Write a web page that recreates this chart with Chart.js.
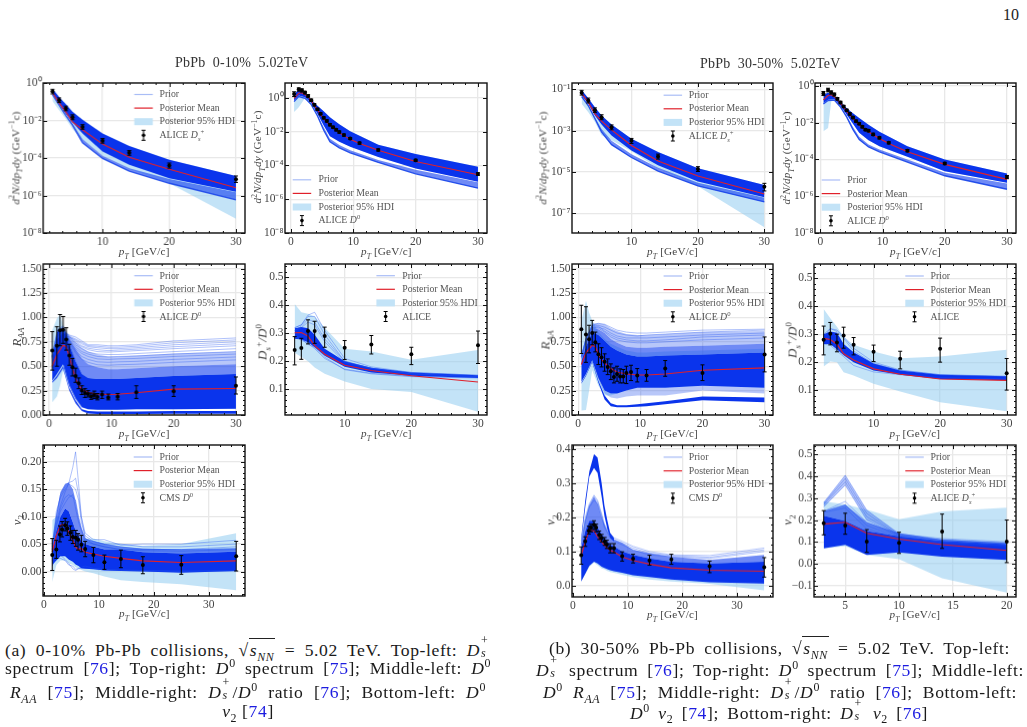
<!DOCTYPE html>
<html>
<head>
<meta charset="utf-8">
<title>Heavy flavour observables in PbPb collisions</title>
<script src="https://cdn.jsdelivr.net/npm/chart.js@4/dist/chart.umd.min.js"></script>
<style>
    html, body { margin: 0; padding: 0; background: #fff; overflow: hidden; }
    body { width: 1027px; height: 727px; position: relative; font-family: "Liberation Serif", serif; color: #222; }
    canvas { position: absolute; }
    .txt { position: absolute; white-space: nowrap; line-height: 1; }
    .title { font-size: 14px; color: #333; letter-spacing: .2px; }
    .axis { font-size: 11.2px; color: #444; transform: translate(-50%, -50%); letter-spacing: .15px; }
    .axis.rot { transform: translate(-50%, -50%) rotate(-90deg); }
    .big { font-size: 13px; }
    .leg { font-size: 9.8px; color: #555; transform: translateY(-50%); }
    .cap { position: absolute; font-size: 17.6px; line-height: 20px; height: 20px; color: #1a1a1a; text-align: justify; text-align-last: justify; white-space: nowrap; letter-spacing: .6px; }
    .cap.mid { text-align: center; text-align-last: center; }
    .cap b { font-weight: normal; color: #1c1ce0; }
    sub, sup { font-size: .68em; line-height: 0; }
    .st { display: inline-block; position: relative; width: .62em; height: 1em; }
    .st i, .st span { position: absolute; left: 1px; font-size: .68em; line-height: 1; }
    .st span { top: -.25em; } .st i { top: .85em; }
    .rt { border-top: 1px solid #222; padding: 1px 1px 0 1px; line-height: 1; }
</style>
</head>
<body>
<script>
// pT nodes shared by several panels
const dsPt = [2.5, 3.5, 4.5, 5.5, 7, 10, 14, 20, 30];
const d0Pt = [0.5, 1.25, 1.75, 2.25, 2.75, 3.25, 3.75, 4.25, 4.75, 5.25, 5.75, 6.25, 6.75, 7.25, 7.75, 8.5, 9.5, 11, 14, 20, 30];
const d0Grid = [0.5, 1.25, 2.25, 3.25, 4.25, 5.25, 6.25, 7.75, 9.5, 14, 20, 30];
const raaGrid = [0.5, 1.25, 2.25, 3.25, 4.25, 5.25, 6.25, 7.75, 9.5, 11, 14, 20, 30];
const raaHdiX = [0.5, 1.25, 1.75, 2.25, 3.25, 4.25, 5.25, 6.25, 7.75, 9.5, 11, 14, 20, 30];
const raaMeanX = [0.5, 1.25, 2.25, 2.75, 3.25, 3.75, 4.25, 4.75, 5.25, 6.25, 7.75, 9.5, 11, 14, 20, 30];
const v2Pt = [1.5, 2.25, 2.9, 3.3, 3.85, 4.25, 4.8, 5.25, 5.8, 6.2, 6.8, 7.5, 9, 11, 14, 18, 25, 35];
const v2Grid = [1.5, 2.25, 3, 3.85, 4.5, 5.25, 5.75, 6.3, 6.8, 7.5, 9, 11, 14, 18, 25, 35];
const dsV2Pt = [3, 5, 7, 10, 14, 20];

// Ds spectrum, 0-10%
const cenDsY = [.35, .12, .044, .015, 4.5e-3, 8.3e-4, 1.9e-4, 4e-5, 7.4e-6];
const cenDsLo = [.26, .09, .033, .011, 3.4e-3, 6.2e-4, 1.4e-4, 2.9e-5, 5e-6];
const cenDsHi = [.46, .16, .058, .02, 6e-3, 1.1e-3, 2.5e-4, 5.4e-5, 1.1e-5];
const cenDsMean = [.3, .087, .029, 8.5e-3, 3.2e-3, 5.5e-4, 1.1e-4, 2.5e-5, 2.6e-6];
const cenDsCoreHi = [.5, .18, .074, .029, .011, 2e-3, 4.4e-4, 8e-5, 1.1e-5];
const cenDsCoreLo = [.27, .075, .023, 8e-3, 2e-3, 2.2e-4, 4.3e-5, 8.3e-6, 1.6e-6];
const cenDsLowHi = [.25, .07, .02, 7e-3, 1e-3, 1.3e-4, 2.8e-5, 7.5e-6, 1.5e-6];
const cenDsLowLo = [.24, .065, .018, 5.6e-3, 6.5e-4, 9.5e-5, 2e-5, 4.5e-6, 5.9e-7];
const cenDsHdiLo = [.11, .035, .012, 3.5e-3, 9e-4, 1.3e-4, 2.6e-5, 4.5e-6, 5.8e-8];

// D0 spectrum, 0-10%
const cenD0Y = [1.7, 3.2, 2.8, 2.05, 1.3, .73, .39, .21, .115, .066, .043, .026, .018, .013, .0095, 6.3e-3, 3.9e-3, 2.1e-3, 8.3e-4, 2e-4, 3.1e-5];
const cenD0Lo = [1.2, 2.5, 2.2, 1.7, 1.1, .62, .33, .18, .1, .057, .037, .022, .016, .011, .0082, 5.4e-3, 3.4e-3, 1.8e-3, 7.1e-4, 1.7e-4, 2.6e-5];
const cenD0Hi = [2.3, 3.9, 3.4, 2.45, 1.55, .85, .45, .24, .13, .075, .05, .03, .021, .015, .011, 7.2e-3, 4.5e-3, 2.4e-3, 9.6e-4, 2.3e-4, 3.7e-5];
const cenD0Mean = [.95, 1.9, 2, 1.5, 1.1, .7, .35, .2, .105, .058, .037, .024, .017, .012, 8.7e-3, 5.8e-3, 3.5e-3, 2e-3, 7.9e-4, 1.7e-4, 2.8e-5];
const cenD0CoreHi = [1.7, 3, 1.9, .76, .34, .16, .072, .027, .0105, 1.7e-3, 4.7e-4, 8.3e-5];
const cenD0CoreLo = [.7, 1.4, 1.1, .49, .115, .023, 5.4e-3, 2.5e-3, 1.26e-3, 3.2e-4, 6.6e-5, 1.1e-5];
const cenD0LowHi = [.65, 1.3, 1, .45, .1, .018, 3.8e-3, 1.6e-3, 7.9e-4, 2.1e-4, 5.5e-5, 1e-5];
const cenD0LowLo = [.6, 1.2, .95, .4, .085, .012, 2.5e-3, 1.1e-3, 5.6e-4, 1.5e-4, 3.2e-5, 4.5e-6];
const cenD0HdiLo = [.145, .28, 1, .45, .115, .024, 5.6e-3, 2.6e-3, 1.3e-3, 3.3e-4, 7e-5, 1.2e-5];

// RAA, 0-10%
const cenRaaY = [.66, .71, .87, .875, .775, .61, .49, .40, .325, .25, .225, .215, .19, .205, .185, .21, .18, .188, .232, .243, .30];
const cenRaaLo = [.46, .50, .71, .735, .665, .51, .40, .335, .27, .21, .18, .185, .16, .17, .155, .17, .155, .155, .17, .19, .215];
const cenRaaHi = [.855, .905, 1.03, 1.01, .895, .725, .58, .48, .38, .30, .27, .25, .225, .245, .22, .245, .215, .22, .30, .30, .39];
const cenRaaMean = [.5, .62, .715, .70, .60, .48, .375, .30, .265, .23, .215, .21, .213, .228, .265, .272];
const cenRaaCoreHi = [.56, .85, .90, .72, .55, .42, .38, .37, .37, .37, .38, .40, .42];
const cenRaaCoreLo = [.35, .42, .52, .30, .17, .08, .06, .055, .055, .055, .06, .06, .065];
const cenRaaMidHi = [.60, .87, .9, .78, .68, .58, .52, .49, .47, .47, .48, .50, .52];
const cenRaaUpHi = [.63, .88, .92, .81, .75, .69, .65, .62, .60, .60, .61, .63, .65];
const cenRaaLowHi = [.34, .40, .5, .28, .15, .06, .04, .035, .035, .035, .035, .04, .04];
const cenRaaLowLo = [.33, .38, .48, .25, .12, .04, .015, .01, .01, .01, .01, .012, .012];
const cenRaaHdiHi = [.87, .99, 1.03, .92, .77, .55, .42, .38, .37, .37, .37, .38, .4, .42];
const cenRaaHdiLo = [.13, .19, .3, .45, .31, .17, .08, .06, .055, .055, .055, .06, .06, .065];
const cenRaaFan = [
    [.60, .78, .85, .82, .80, .76, .72, .72, .71, .71, .72, .76, .79],
    [.60, .78, .85, .80, .77, .73, .70, .69, .68, .68, .69, .72, .75],
    [.60, .78, .85, .79, .74, .70, .67, .65, .645, .65, .66, .68, .71],
    [.59, .78, .86, .78, .72, .68, .645, .625, .62, .62, .63, .65, .68],
    [.59, .80, .87, .77, .70, .65, .625, .60, .595, .60, .605, .625, .65],
    [.61, .82, .88, .76, .68, .63, .60, .575, .57, .575, .58, .60, .625],
    [.58, .79, .86, .80, .76, .71, .685, .67, .66, .665, .675, .70, .73],
    [.58, .80, .87, .81, .78, .745, .71, .705, .695, .695, .705, .74, .77],
    [.60, .81, .88, .75, .66, .60, .57, .545, .54, .545, .55, .57, .595],
    [.60, .83, .89, .74, .64, .57, .54, .515, .51, .515, .52, .54, .565]
];

// Ds/D0 ratio, 0-10%
const cenRatioY = [.24, .247, .308, .308, .29, .248, .26, .225, .257];
const cenRatioLo = [.187, .207, .262, .264, .25, .206, .226, .188, .192];
const cenRatioHi = [.288, .282, .348, .343, .322, .274, .292, .25, .308];
const cenRatioMean = [.302, .303, .29, .256, .225, .186, .167, .148, .126];
const cenRatioCoreHi = [.318, .322, .318, .295, .245, .2, .177, .16, .15];
const cenRatioCoreLo = [.28, .278, .268, .25, .22, .18, .16, .148, .14];
const cenRatioHdiHi = [.405, .375, .37, .36, .32, .245, .235, .205, .24];
const cenRatioHdiLo = [.23, .215, .2, .178, .155, .128, .101, .09, .02];
const cenRatioFan = [
    [.32, .33, .365, .375, .31, .21, .18, .16, .15],
    [.32, .33, .36, .36, .295, .2, .175, .16, .15],
    [.31, .325, .35, .34, .28, .2, .175, .155, .145],
    [.31, .32, .34, .33, .27, .195, .175, .155, .145],
    [.29, .28, .26, .25, .215, .17, .155, .145, .14],
    [.29, .275, .265, .245, .21, .172, .157, .147, .142]
];

// D0 v2, 0-10%
const cenV2Y = [.03, .04, .0675, .0765, .0845, .0785, .0705, .063, .0615, .058, .049, .041, .03, .017, .023, .012, .0125, .028];
const cenV2Lo = [.002, .024, .054, .063, .074, .066, .057, .051, .046, .039, .036, .027, .016, .004, .007, -.004, -.005, .001];
const cenV2Hi = [.06, .057, .083, .091, .097, .0905, .083, .075, .075, .069, .066, .055, .044, .03, .039, .027, .029, .055];
const cenV2Mean = [.036, .066, .0845, .086, .072, .057, .045, .04, .0425, .035, .032, .028, .024, .0195, .0165, .0195];
const cenV2CoreHi = [.04, .075, .10, .115, .11, .09, .075, .065, .055, .05, .045, .04, .04, .035, .033, .036];
const cenV2CoreLo = [.012, .02, .028, .028, .022, .018, .013, .01, .006, .005, .004, .002, .001, 0, -.002, .001];
const cenV2MidHi = [.05, .105, .145, .16, .162, .15, .13, .10, .08, .06, .055, .05, .045, .042, .04, .042];
const cenV2HdiHi = [.094, .1, .1, .1, .09, .08, .07, .065, .06, .06, .06, .055, .05, .047, .05, .07];
const cenV2HdiLo = [-.019, .012, .02, .02, .015, .012, .008, .005, .003, 0, -.003, -.009, -.016, -.019, -.023, -.034];
const cenV2Fan = [
    [.04, .09, .12, .145, .16, .19, .218, .16, .10, .06, .055, .05, .045, .04, .04, .042],
    [.05, .10, .14, .155, .162, .165, .17, .14, .10, .07, .058, .058, .048, .05, .05, .057],
    [.045, .11, .135, .15, .16, .155, .15, .13, .09, .065, .055, .05, .05, .045, .045, .05],
    [.04, .08, .115, .135, .14, .135, .13, .10, .08, .06, .05, .045, .04, .04, .04, .045],
    [.04, .085, .11, .125, .135, .14, .115, .09, .075, .055, .05, .045, .04, .038, .037, .04],
    [.01, .025, .024, .02, .012, .01, .004, .006, .008, .01, .006, .004, .003, .002, .001, .002],
    [.02, .035, .03, .022, .015, .005, .002, .005, .006, .006, .005, .003, .002, .001, 0, .001]
];

// Ds spectrum, 30-50%
const perDsY = [.069, .029, 9.8e-3, 4.5e-3, 1.45e-3, 3.2e-4, 5.6e-5, 1.4e-5, 1.9e-6];
const perDsLo = [.053, .022, 7.5e-3, 3.4e-3, 1.1e-3, 2.4e-4, 4.2e-5, 1.05e-5, 1.2e-6];
const perDsHi = [.09, .038, .0127, 5.9e-3, 1.9e-3, 4.2e-4, 7.3e-5, 1.8e-5, 2.8e-6];
const perDsMean = [.064, .024, 6.5e-3, 2.9e-3, 1.1e-3, 1.9e-4, 3.4e-5, 6.3e-6, 8.6e-7];
const perDsCoreHi = [.093, .037, .0135, 5.4e-3, 2e-3, 4e-4, 9.3e-5, 1.5e-5, 2.3e-6];
const perDsCoreLo = [.05, .02, 5.4e-3, 2e-3, 5.9e-4, 1.1e-4, 2.1e-5, 3.4e-6, 6e-7];
const perDsLowHi = [.048, .018, 4.5e-3, 1.2e-3, 3.2e-4, 7.2e-5, 1.6e-5, 3e-6, 5.6e-7];
const perDsLowLo = [.045, .016, 3.8e-3, 8.5e-4, 2.1e-4, 5e-5, 1.1e-5, 2.1e-6, 3.5e-7];
const perDsHdiLo = [.02, 7.9e-3, 2.6e-3, 6e-4, 3.4e-4, 1e-4, 1.5e-5, 2e-6, 2.1e-8];

// D0 spectrum, 30-50%
const perD0Y = [.39, .6, .44, .34, .2, .126, .076, .047, .03, .019, .012, .0089, .006, .0042, .0037, .0023, .0015, 8e-4, 3e-4, 6e-5, 1.1e-5];
const perD0Lo = [.3, .48, .36, .28, .17, .108, .066, .041, .026, .0165, .0105, .0078, .0052, .0037, .0032, .002, .0013, 7e-4, 2.6e-4, 5.2e-5, 9e-6];
const perD0Hi = [.5, .75, .54, .41, .235, .147, .088, .054, .035, .022, .014, .0102, .0069, .0048, .0043, .0027, .0017, 9.2e-4, 3.5e-4, 7e-5, 1.35e-5];
const perD0Mean = [.175, .3, .33, .26, .175, .115, .07, .041, .026, .017, .011, .0075, .0054, .004, .0032, .0022, .0014, 7.3e-4, 2.6e-4, 5.4e-5, 8.3e-6];
const perD0CoreHi = [.32, .44, .26, .14, .062, .033, .018, .0078, .0032, 5.3e-4, 1e-4, 1.7e-5];
const perD0CoreLo = [.115, .175, .19, .083, .027, .0089, .0028, .0011, 5.2e-4, 1.4e-4, 2.3e-5, 5.5e-6];
const perD0LowHi = [.11, .17, .18, .078, .024, .0059, .0017, 6.5e-4, 3.5e-4, 1e-4, 1.9e-5, 5e-6];
const perD0LowLo = [.105, .16, .17, .07, .02, .0042, .0012, 4.8e-4, 2.6e-4, 7.2e-5, 1.3e-5, 2.4e-6];
const perD0HdiX = [0.5, 1.25, 1.75, 2.25, 3.25, 4.25, 5.25, 6.25, 7.75, 9.5, 14, 20, 30];
const perD0HdiHi = [.32, .44, .4, .26, .14, .062, .033, .018, .0078, .0032, 5.3e-4, 1e-4, 1.7e-5];
const perD0HdiLo = [.0034, .0051, .14, .2, .083, .027, .0089, .0028, .0011, 5.2e-4, 1.4e-4, 2.3e-5, 5.5e-6];

// RAA, 30-50%
const perRaaY = [.88, .825, .777, .84, .747, .623, .592, .545, .493, .449, .39, .42, .394, .394, .43, .44, .404, .404, .476, .43, .62];
const perRaaLo = [.63, .54, .637, .72, .647, .517, .493, .449, .414, .363, .329, .346, .329, .329, .322, .353, .339, .346, .397, .353, .442];
const perRaaHi = [1.125, 1.11, .92, .97, .85, .73, .69, .627, .575, .524, .483, .5, .473, .466, .5, .51, .476, .466, .558, .514, .8];
const perRaaMean = [.517, .637, .716, .70, .62, .568, .534, .505, .476, .44, .42, .41, .41, .42, .459, .483];
const perRaaCoreHi = [.55, .70, .85, .82, .76, .70, .66, .62, .60, .60, .61, .62, .64];
const perRaaCoreLo = [.34, .42, .56, .38, .25, .22, .22, .25, .28, .28, .28, .30, .28];
const perRaaMidHi = [.6, .76, .90, .88, .84, .78, .74, .70, .69, .69, .70, .71, .73];
const perRaaUpHi = [.62, .79, .94, .94, .93, .89, .86, .83, .82, .82, .83, .85, .86];
const perRaaFadeLo = [.34, .42, .55, .36, .22, .18, .17, .19, .2, .2, .2, .25, .22];
const perRaaLowHi = [.33, .41, .55, .35, .2, .12, .1, .1, .11, .12, .14, .19, .18];
const perRaaLowLo = [.32, .40, .54, .33, .16, .09, .08, .08, .085, .09, .11, .15, .13];
const perRaaHdiHi = [.96, 1.17, 1.05, .97, .85, .78, .73, .7, .66, .64, .64, .65, .66, .68];
const perRaaHdiLo = [.045, .05, .25, .46, .3, .2, .2, .22, .25, .28, .28, .28, .3, .28];
const perRaaFan = [
    [.6, .78, .92, .94, .93, .9, .87, .85, .84, .84, .85, .87, .88],
    [.6, .78, .92, .92, .9, .87, .84, .82, .81, .82, .83, .85, .87],
    [.6, .78, .9, .9, .88, .84, .81, .79, .79, .79, .8, .82, .84],
    [.59, .77, .91, .91, .86, .82, .79, .77, .76, .76, .77, .80, .82],
    [.58, .76, .90, .89, .85, .80, .77, .75, .74, .74, .75, .77, .79]
];

// Ds/D0 ratio, 30-50%
const perRatioY = [.28, .302, .27, .295, .262, .237, .212, .248, .16];
const perRatioLo = [.226, .262, .237, .25, .226, .202, .176, .2, .1];
const perRatioHi = [.329, .342, .3, .325, .288, .261, .239, .286, .213];
const perRatioMean = [.285, .281, .264, .23, .208, .176, .157, .14, .135];
const perRatioCoreHi = [.30, .31, .305, .265, .235, .195, .17, .155, .15];
const perRatioCoreLo = [.265, .265, .245, .225, .2, .17, .155, .14, .135];
const perRatioHdiHi = [.39, .357, .327, .292, .262, .238, .214, .22, .244];
const perRatioHdiLo = [.184, .202, .2, .164, .152, .123, .095, .057, .024];
const perRatioFan = [
    [.29, .32, .315, .29, .25, .2, .172, .155, .15],
    [.3, .32, .31, .285, .24, .195, .17, .155, .148],
    [.265, .26, .24, .22, .188, .165, .155, .145, .14]
];

// D0 v2, 30-50%
const perV2Y = [.089, .13, .161, .17, .178, .17, .149, .139, .129, .12, .11, .11, .086, .079, .074, .077, .057, .054];
const perV2Lo = [.0626, .115, .151, .1575, .164, .1575, .135, .128, .118, .109, .096, .096, .072, .0665, .06, .0626, .038, .025];
const perV2Hi = [.1135, .143, .174, .18, .19, .18, .16, .15, .141, .133, .123, .123, .099, .092, .089, .092, .072, .082];
const perV2Mean = [.089, .128, .164, .16, .143, .128, .118, .11, .104, .099, .084, .074, .063, .052, .045, .042];
const perV2CoreHi = [.11, .16, .19, .19, .17, .15, .14, .13, .12, .115, .10, .09, .08, .07, .065, .07];
const perV2CoreLo = [.012, .035, .058, .07, .065, .055, .052, .048, .045, .042, .038, .03, .025, .018, .01, .006];
const perV2MidHi = [.12, .19, .235, .26, .24, .2, .18, .16, .145, .135, .125, .105, .095, .085, .075, .09];
const perV2SpikeHi = [.14, .25, .335, .385, .375, .30, .235, .19, .155, .14];
const perV2SpikeLo = [.13, .23, .32, .345, .33, .26, .205, .165, .14, .13];
const perV2HdiLo = [.012, .035, .055, .068, .06, .05, .048, .043, .04, .038, .032, .025, .018, .012, .005, -.014];
const perV2Fan = [
    [.13, .2, .24, .265, .25, .21, .18, .165, .15, .14, .13, .115, .1, .09, .088, .11],
    [.12, .19, .235, .26, .245, .205, .175, .16, .145, .135, .125, .11, .095, .088, .083, .105],
    [.12, .19, .23, .25, .24, .2, .17, .155, .14, .13, .12, .105, .09, .085, .08, .1]
];

// Ds v2, 30-50%
const perDsV2Y = [.185, .175, .101, .095, .147, .101];
const perDsV2Lo = [.132, .135, .052, .047, .07, .005];
const perDsV2Hi = [.243, .231, .156, .144, .227, .2];
const perDsV2Mean = [.181, .19, .139, .113, .087, .061];
const perDsV2CoreHi = [.22, .195, .15, .125, .105, .09];
const perDsV2CoreLo = [.07, .086, .04, .052, .032, .017];
const perDsV2MidHi = [.24, .27, .19, .14, .11, .095];
const perDsV2TopHi = [.28, .405, .245, .14];
const perDsV2TopLo = [.26, .36, .2, .13];
const perDsV2HdiHi = [.285, .272, .247, .204, .239, .256];
const perDsV2HdiLo = [.07, .081, .04, .021, -.067, -.132];
const perDsV2Fan = [
    [.28, .405, .245, .135, .115, .1],
    [.275, .39, .23, .13, .11, .095],
    [.27, .375, .215, .13, .108, .09],
    [.26, .36, .2, .125, .105, .09],
    [.24, .285, .19, .125, .1, .085],
    [.24, .27, .175, .12, .1, .085],
    [.235, .255, .16, .115, .095, .08]
];

// tick values and the text drawn for them
const xTicks30 = [10, 20, 30];
const xTicks030 = [0, 10, 20, 30];
const xTicks35 = [0, 10, 20, 30];
const xTicksDsV2 = [5, 10, 15, 20];
const logTicks08 = [1, 1e-2, 1e-4, 1e-6, 1e-8];
const logLabels08 = ["10\u2070", "10\u207B\u00B2", "10\u207B\u2074", "10\u207B\u2076", "10\u207B\u2078"];
const logTicksPer = [1e-1, 1e-3, 1e-5, 1e-7];
const logLabelsPer = ["10\u207B\u00B9", "10\u207B\u00B3", "10\u207B\u2075", "10\u207B\u2077"];
const raaTicks = [0, .25, .5, .75, 1, 1.25, 1.5];
const raaLabels = ["0.00", "0.25", "0.50", "0.75", "1.00", "1.25", "1.50"];
const ratioTicks = [.1, .2, .3, .4, .5];
const ratioLabels = ["0.1", "0.2", "0.3", "0.4", "0.5"];
const cenV2Ticks = [0, .05, .1, .15, .2];
const cenV2Labels = ["0.00", "0.05", "0.10", "0.15", "0.20"];
const perV2Ticks = [0, .1, .2, .3, .4];
const perV2Labels = ["0.0", "0.1", "0.2", "0.3", "0.4"];
const dsV2Ticks = [-.1, 0, .1, .2, .3, .4, .5];
const dsV2Labels = ["\u22120.1", "0.0", "0.1", "0.2", "0.3", "0.4", "0.5"];

const darkBlue = "#0a34ec";
const midBlue = "rgba(15,60,238,0.6)";
const paleBlue = "rgba(20,70,235,0.3)";
const fanBlue = "rgba(30,80,240,0.45)";
const edgeBlue = "#2f58ea";
const hdiBlue = "rgba(135,200,240,0.5)";
const meanRed = "#e0202a";

const padLeft = 42, padRight = 10, padTop = 10, padBottom = 20;

function xy(xs, ys) {
    return ys.map((y, i) => ({ x: xs[i], y: y }));
}

function addBand(list, xs, lo, hi, color, edge) {
    list.push({ data: xy(xs, lo), borderWidth: edge ? 1.3 : 0, borderColor: edge, pointRadius: 0, fill: false });
    list.push({ data: xy(xs, hi), borderWidth: 0, pointRadius: 0, backgroundColor: color, fill: "-1" });
}

function addLine(list, xs, ys, color, width) {
    list.push({ data: xy(xs, ys), borderColor: color, borderWidth: width, pointRadius: 0, fill: false });
}

// frame, inward ticks, error bars and legend keys all go on the same canvas
function decorPlugin(p) {
    return {
        id: "decor",
        afterDatasetsDraw(chart) {
            const ctx = chart.ctx, yScale = chart.scales.y;
            const xScale = chart.scales.x;
            ctx.save();
            ctx.strokeStyle = "#000";
            ctx.fillStyle = "#000";
            ctx.lineWidth = 1;
            p.ptX.forEach((x, i) => {
                const px = xScale.getPixelForValue(x);
                const top = yScale.getPixelForValue(p.hi[i]);
                const bot = yScale.getPixelForValue(p.lo[i]);
                ctx.beginPath();
                ctx.moveTo(px, top); ctx.lineTo(px, bot);
                ctx.moveTo(px - 2, top); ctx.lineTo(px + 2, top);
                ctx.moveTo(px - 2, bot); ctx.lineTo(px + 2, bot);
                ctx.stroke();
            });
            ctx.restore();
        },
        afterDraw(chart) {
            const ctx = chart.ctx, a = chart.chartArea;
            const xScale = chart.scales.x, yScale = chart.scales.y;
            ctx.save();
            ctx.strokeStyle = "#111";
            ctx.lineWidth = 1;
            const xMark = (v, len) => {
                const px = Math.round(xScale.getPixelForValue(v)) + .5;
                ctx.beginPath();
                ctx.moveTo(px, a.bottom); ctx.lineTo(px, a.bottom - len);
                ctx.moveTo(px, a.top); ctx.lineTo(px, a.top + len);
                ctx.stroke();
            };
            const yMark = (v, len) => {
                const py = Math.round(yScale.getPixelForValue(v)) + .5;
                ctx.beginPath();
                ctx.moveTo(a.left, py); ctx.lineTo(a.left + len, py);
                ctx.moveTo(a.right, py); ctx.lineTo(a.right - len, py);
                ctx.stroke();
            };
            for (let v = Math.ceil(p.xMin / p.xMinor) * p.xMinor; v < p.xMax; v += p.xMinor) xMark(v, 2);
            p.xTicks.forEach(v => xMark(v, 4));
            if (p.yMinor) {
                for (let n = Math.ceil(p.yMin / p.yMinor); n * p.yMinor < p.yMax; n++) yMark(n * p.yMinor, 2);
            }
            p.yTicks.forEach(v => yMark(v, 4));
            ctx.lineWidth = 1.4;
            ctx.strokeRect(a.left, a.top, a.right - a.left, a.bottom - a.top);

            // legend keys
            const kx = p.legX - p.left + padLeft, ky = p.legY - p.top + padTop;
            const step = 13.6, kw = 18.5;
            ctx.lineWidth = 1.2;
            ctx.strokeStyle = "#a9bdf6";
            ctx.beginPath(); ctx.moveTo(kx, ky); ctx.lineTo(kx + kw, ky); ctx.stroke();
            ctx.strokeStyle = meanRed;
            ctx.beginPath(); ctx.moveTo(kx, ky + step); ctx.lineTo(kx + kw, ky + step); ctx.stroke();
            ctx.fillStyle = "#c3e3f7";
            ctx.fillRect(kx, ky + 2 * step - 3.5, kw, 7);
            const ex = kx + kw / 2, ey = ky + 3 * step;
            ctx.strokeStyle = "#000";
            ctx.lineWidth = 1;
            ctx.beginPath();
            ctx.moveTo(ex, ey - 5); ctx.lineTo(ex, ey + 5);
            ctx.moveTo(ex - 2, ey - 5); ctx.lineTo(ex + 2, ey - 5);
            ctx.moveTo(ex - 2, ey + 5); ctx.lineTo(ex + 2, ey + 5);
            ctx.stroke();
            ctx.fillStyle = "#000";
            ctx.beginPath(); ctx.arc(ex, ey, 1.8, 0, 2 * Math.PI); ctx.fill();
            ctx.restore();
        }
    };
}

function addText(cls, x, y, html) {
    const el = document.createElement("div");
    el.className = "txt " + cls;
    el.style.left = x + "px";
    el.style.top = y + "px";
    el.innerHTML = html;
    document.body.appendChild(el);
}

function drawPanel(p) {
    const sets = [];
    addBand(sets, p.hdiX, p.hdiLo, p.hdiHi, hdiBlue);
    p.bands.forEach(b => addBand(sets, b[0], b[1], b[2], b[3], b[4]));
    (p.fan || []).forEach(f => addLine(sets, p.fanX, f, fanBlue, .8));
    addLine(sets, p.meanX, p.mean, meanRed, 1.1);
    sets.push({ data: xy(p.ptX, p.ptY), showLine: false, pointRadius: 2, backgroundColor: "#000", borderColor: "#000", borderWidth: 0 });
    sets.forEach((s, i) => { s.order = -i; s.tension = 0; });

    const canvas = document.createElement("canvas");
    const w = p.right - p.left + padLeft + padRight;
    const h = p.bottom - p.top + padTop + padBottom;
    canvas.width = w;
    canvas.height = h;
    canvas.style.left = (p.left - padLeft) + "px";
    canvas.style.top = (p.top - padTop) + "px";
    canvas.style.width = w + "px";
    canvas.style.height = h + "px";
    document.body.appendChild(canvas);

    const tickFont = { family: "'Liberation Serif', serif", size: 11.5 };
    new Chart(canvas.getContext("2d"), {
        type: "line",
        data: { datasets: sets },
        options: {
            responsive: false,
            animation: false,
            devicePixelRatio: 1,
            layout: { padding: { top: padTop, right: padRight, left: 0, bottom: 0 } },
            plugins: {
                legend: { display: false },
                tooltip: { enabled: false },
                filler: { drawTime: "beforeDatasetDraw", propagate: false }
            },
            scales: {
                x: {
                    type: "linear",
                    min: p.xMin,
                    max: p.xMax,
                    afterBuildTicks: s => { s.ticks = p.xTicks.map(v => ({ value: v })); },
                    afterFit: s => { s.height = padBottom; },
                    border: { display: false },
                    grid: { color: "#e8e8e8", lineWidth: 1.3, drawTicks: false },
                    ticks: { autoSkip: false, maxRotation: 0, padding: 2, color: "#444", font: tickFont, callback: v => String(v) }
                },
                y: {
                    type: p.yLog ? "logarithmic" : "linear",
                    min: p.yMin,
                    max: p.yMax,
                    afterBuildTicks: s => { s.ticks = p.yTicks.map(v => ({ value: v })); },
                    afterFit: s => { s.width = padLeft; },
                    border: { display: false },
                    grid: { color: "#e8e8e8", lineWidth: 1.3, drawTicks: false },
                    ticks: { autoSkip: false, padding: 1.5, color: "#444", font: tickFont, callback: v => p.yLabels[p.yTicks.indexOf(v)] }
                }
            }
        },
        plugins: [decorPlugin(p)]
    });

    // axis titles and legend text stay in the page so they can carry sub and superscripts
    addText("axis", (p.left + p.right) / 2, p.bottom + 18.5, "<i>p<sub>T</sub></i> [GeV/c]");
    addText("axis rot" + (p.yTitle === spectrumTitle ? "" : " big"), p.yTitleX, p.yTitleY, p.yTitle);
    const rows = ["Prior", "Posterior Mean", "Posterior 95% HDI", p.dataName];
    rows.forEach((r, i) => addText("leg", p.legX + 25.5, p.legY + i * 13.6, r));
}

const spectrumTitle = "<i>d</i><sup>2</sup><i>N/dp<sub>T</sub>dy</i> (GeV<sup>\u22121</sup>c)";
const raaTitle = "<i>R<sub>AA</sub></i>";
const ratioTitle = "<i>D<sub>s</sub></i><sup>+</sup><i>/D</i><sup>0</sup>";
const v2Title = "<i>v</i><sub>2</sub>";

drawPanel({
    left: 43.3, right: 245, top: 82.5, bottom: 233, xMin: 1.1, xMax: 31.35, yMin: 1e-8, yMax: 1, yLog: true,
    xTicks: xTicks30, xMinor: 2, yTicks: logTicks08, yLabels: logLabels08,
    ptX: dsPt, ptY: cenDsY, lo: cenDsLo, hi: cenDsHi, meanX: dsPt, mean: cenDsMean,
    hdiX: dsPt, hdiLo: cenDsHdiLo, hdiHi: cenDsCoreHi,
    bands: [[dsPt, cenDsLowLo, cenDsLowHi, midBlue, edgeBlue], [dsPt, cenDsCoreLo, cenDsCoreHi, darkBlue]],
    yTitle: spectrumTitle, yTitleX: 16, yTitleY: 158, legX: 134, legY: 94, dataName: "ALICE <i>D<sub>s</sub></i><sup>+</sup>"
});
drawPanel({
    left: 285.3, right: 487.3, top: 82.5, bottom: 233, xMin: -.96, xMax: 31.45, yMin: 1e-8, yMax: 7.6, yLog: true,
    xTicks: xTicks030, xMinor: 2, yTicks: logTicks08, yLabels: logLabels08,
    ptX: d0Pt, ptY: cenD0Y, lo: cenD0Lo, hi: cenD0Hi, meanX: d0Pt, mean: cenD0Mean,
    hdiX: d0Grid, hdiLo: cenD0HdiLo, hdiHi: cenD0CoreHi,
    bands: [[d0Grid, cenD0LowLo, cenD0LowHi, midBlue, edgeBlue], [d0Grid, cenD0CoreLo, cenD0CoreHi, darkBlue]],
    yTitle: spectrumTitle, yTitleX: 258, yTitleY: 157, legX: 293, legY: 179.3, dataName: "ALICE <i>D</i><sup>0</sup>"
});
drawPanel({
    left: 43.3, right: 245, top: 264, bottom: 415, xMin: -.96, xMax: 31.45, yMin: 0, yMax: 1.548,
    xTicks: xTicks030, xMinor: 2, yTicks: raaTicks, yLabels: raaLabels, yMinor: .05,
    ptX: d0Pt, ptY: cenRaaY, lo: cenRaaLo, hi: cenRaaHi, meanX: raaMeanX, mean: cenRaaMean,
    hdiX: raaHdiX, hdiLo: cenRaaHdiLo, hdiHi: cenRaaHdiHi,
    bands: [[raaGrid, cenRaaMidHi, cenRaaUpHi, paleBlue], [raaGrid, cenRaaCoreHi, cenRaaMidHi, midBlue], [raaGrid, cenRaaLowLo, cenRaaLowHi, darkBlue], [raaGrid, cenRaaCoreLo, cenRaaCoreHi, darkBlue]],
    fanX: raaGrid, fan: cenRaaFan,
    yTitle: raaTitle, yTitleX: 16, yTitleY: 337, legX: 134, legY: 275.7, dataName: "ALICE <i>D</i><sup>0</sup>"
});
drawPanel({
    left: 285.3, right: 487.3, top: 264, bottom: 415, xMin: 1.05, xMax: 31.35, yMin: .008, yMax: .5475,
    xTicks: xTicks30, xMinor: 2, yTicks: ratioTicks, yLabels: ratioLabels, yMinor: .02,
    ptX: dsPt, ptY: cenRatioY, lo: cenRatioLo, hi: cenRatioHi, meanX: dsPt, mean: cenRatioMean,
    hdiX: dsPt, hdiLo: cenRatioHdiLo, hdiHi: cenRatioHdiHi,
    bands: [[dsPt, cenRatioCoreLo, cenRatioCoreHi, darkBlue]],
    fanX: dsPt, fan: cenRatioFan,
    yTitle: ratioTitle, yTitleX: 262, yTitleY: 342, legX: 376.7, legY: 275.7, dataName: "ALICE"
});
drawPanel({
    left: 43.3, right: 245.3, top: 444.7, bottom: 595.7, xMin: -.18, xMax: 36.6, yMin: -.0445, yMax: .2305,
    xTicks: xTicks35, xMinor: 2, yTicks: cenV2Ticks, yLabels: cenV2Labels, yMinor: .01,
    ptX: v2Pt, ptY: cenV2Y, lo: cenV2Lo, hi: cenV2Hi, meanX: v2Grid, mean: cenV2Mean,
    hdiX: v2Grid, hdiLo: cenV2HdiLo, hdiHi: cenV2HdiHi,
    bands: [[v2Grid, cenV2CoreHi, cenV2MidHi, midBlue], [v2Grid, cenV2CoreLo, cenV2CoreHi, darkBlue]],
    fanX: v2Grid, fan: cenV2Fan,
    yTitle: v2Title, yTitleX: 16, yTitleY: 520, legX: 134, legY: 456.7, dataName: "CMS <i>D</i><sup>0</sup>"
});
drawPanel({
    left: 571.7, right: 773.3, top: 82.5, bottom: 233.3, xMin: 1.05, xMax: 31.3, yMin: Math.pow(10, -7.96), yMax: Math.pow(10, -.69), yLog: true,
    xTicks: xTicks30, xMinor: 2, yTicks: logTicksPer, yLabels: logLabelsPer,
    ptX: dsPt, ptY: perDsY, lo: perDsLo, hi: perDsHi, meanX: dsPt, mean: perDsMean,
    hdiX: dsPt, hdiLo: perDsHdiLo, hdiHi: perDsCoreHi,
    bands: [[dsPt, perDsLowLo, perDsLowHi, midBlue, edgeBlue], [dsPt, perDsCoreLo, perDsCoreHi, darkBlue]],
    yTitle: spectrumTitle, yTitleX: 543, yTitleY: 158, legX: 663.3, legY: 94.7, dataName: "ALICE <i>D<sub>s</sub></i><sup>+</sup>"
});
drawPanel({
    left: 815, right: 1016, top: 83, bottom: 233.3, xMin: -.85, xMax: 31.45, yMin: 1e-8, yMax: Math.pow(10, .16), yLog: true,
    xTicks: xTicks030, xMinor: 2, yTicks: logTicks08, yLabels: logLabels08,
    ptX: d0Pt, ptY: perD0Y, lo: perD0Lo, hi: perD0Hi, meanX: d0Pt, mean: perD0Mean,
    hdiX: perD0HdiX, hdiLo: perD0HdiLo, hdiHi: perD0HdiHi,
    bands: [[d0Grid, perD0LowLo, perD0LowHi, midBlue, edgeBlue], [d0Grid, perD0CoreLo, perD0CoreHi, darkBlue]],
    yTitle: spectrumTitle, yTitleX: 787, yTitleY: 158, legX: 821.7, legY: 180, dataName: "ALICE <i>D</i><sup>0</sup>"
});
drawPanel({
    left: 571.7, right: 773.3, top: 264, bottom: 415.3, xMin: -1, xMax: 31.35, yMin: 0, yMax: 1.548,
    xTicks: xTicks030, xMinor: 2, yTicks: raaTicks, yLabels: raaLabels, yMinor: .05,
    ptX: d0Pt, ptY: perRaaY, lo: perRaaLo, hi: perRaaHi, meanX: raaMeanX, mean: perRaaMean,
    hdiX: raaHdiX, hdiLo: perRaaHdiLo, hdiHi: perRaaHdiHi,
    bands: [[raaGrid, perRaaMidHi, perRaaUpHi, paleBlue], [raaGrid, perRaaCoreHi, perRaaMidHi, midBlue], [raaGrid, perRaaFadeLo, perRaaCoreLo, paleBlue], [raaGrid, perRaaLowLo, perRaaLowHi, darkBlue], [raaGrid, perRaaCoreLo, perRaaCoreHi, darkBlue]],
    fanX: raaGrid, fan: perRaaFan,
    yTitle: raaTitle, yTitleX: 545, yTitleY: 340, legX: 663.3, legY: 276, dataName: "ALICE <i>D</i><sup>0</sup>"
});
drawPanel({
    left: 813.7, right: 1016, top: 264, bottom: 415, xMin: 1.05, xMax: 31.4, yMin: .011, yMax: .551,
    xTicks: xTicks30, xMinor: 2, yTicks: ratioTicks, yLabels: ratioLabels, yMinor: .02,
    ptX: dsPt, ptY: perRatioY, lo: perRatioLo, hi: perRatioHi, meanX: dsPt, mean: perRatioMean,
    hdiX: dsPt, hdiLo: perRatioHdiLo, hdiHi: perRatioHdiHi,
    bands: [[dsPt, perRatioCoreLo, perRatioCoreHi, darkBlue]],
    fanX: dsPt, fan: perRatioFan,
    yTitle: ratioTitle, yTitleX: 792, yTitleY: 340, legX: 905, legY: 276, dataName: "ALICE"
});
drawPanel({
    left: 571.7, right: 773.3, top: 445, bottom: 596.7, xMin: -.18, xMax: 36.6, yMin: -.033, yMax: .4117,
    xTicks: xTicks35, xMinor: 2, yTicks: perV2Ticks, yLabels: perV2Labels, yMinor: .02,
    ptX: v2Pt, ptY: perV2Y, lo: perV2Lo, hi: perV2Hi, meanX: v2Grid, mean: perV2Mean,
    hdiX: v2Grid, hdiLo: perV2HdiLo, hdiHi: perV2CoreHi,
    bands: [[v2Grid, perV2CoreHi, perV2MidHi, midBlue], [v2Grid, perV2CoreLo, perV2CoreHi, darkBlue], [v2Grid, perV2SpikeLo, perV2SpikeHi, darkBlue]],
    fanX: v2Grid, fan: perV2Fan,
    yTitle: v2Title, yTitleX: 550, yTitleY: 520, legX: 663.3, legY: 457, dataName: "CMS <i>D</i><sup>0</sup>"
});
drawPanel({
    left: 813.7, right: 1016, top: 445, bottom: 596.7, xMin: 2.1, xMax: 20.86, yMin: -.152, yMax: .543,
    xTicks: xTicksDsV2, xMinor: 1, yTicks: dsV2Ticks, yLabels: dsV2Labels, yMinor: .02,
    ptX: dsV2Pt, ptY: perDsV2Y, lo: perDsV2Lo, hi: perDsV2Hi, meanX: dsV2Pt, mean: perDsV2Mean,
    hdiX: dsV2Pt, hdiLo: perDsV2HdiLo, hdiHi: perDsV2HdiHi,
    bands: [[dsV2Pt, perDsV2CoreHi, perDsV2MidHi, midBlue], [dsV2Pt, perDsV2CoreLo, perDsV2CoreHi, darkBlue], [dsV2Pt, perDsV2TopLo, perDsV2TopHi, paleBlue]],
    fanX: dsV2Pt, fan: perDsV2Fan,
    yTitle: v2Title, yTitleX: 787, yTitleY: 520, legX: 905, legY: 457, dataName: "ALICE <i>D<sub>s</sub></i><sup>+</sup>"
});

// page furniture around the panels
addText("", 1003, 7, "<span style='font-size:16px'>10</span>");
addText("title", 175, 56, "PbPb &nbsp;0-10% &nbsp;5.02TeV");
addText("title", 700, 57, "PbPb &nbsp;30-50% &nbsp;5.02TeV");

const dsPlus = "<i>D</i><span class='st'><span>+</span><i>s</i></span>";
const dZero = "<i>D</i><sup>0</sup>";
const captionLines = [
    [5, 486, 638, "(a) 0-10% Pb-Pb collisions, \u221A<span class='rt'><i>s<sub>NN</sub></i></span> = 5.02 TeV. Top-left: " + dsPlus],
    [5, 486, 658, "spectrum [<b>76</b>]; Top-right: " + dZero + " spectrum [<b>75</b>]; Middle-left: " + dZero],
    [10, 476, 680, "<i>R<sub>AA</sub></i> [<b>75</b>]; Middle-right: " + dsPlus + "/" + dZero + " ratio [<b>76</b>]; Bottom-left: " + dZero],
    [5, 486, 701, "<i>v</i><sub>2</sub> [<b>74</b>]", true],
    [549, 461, 638, "(b) 30-50% Pb-Pb collisions, \u221A<span class='rt'><i>s<sub>NN</sub></i></span> = 5.02 TeV. Top-left:"],
    [536, 488, 658, dsPlus + " spectrum [<b>76</b>]; Top-right: " + dZero + " spectrum [<b>75</b>]; Middle-left:"],
    [543, 474, 680, dZero + " <i>R<sub>AA</sub></i> [<b>75</b>]; Middle-right: " + dsPlus + "/" + dZero + " ratio [<b>76</b>]; Bottom-left:"],
    [630, 298, 701, dZero + " <i>v</i><sub>2</sub> [<b>74</b>]; Bottom-right: " + dsPlus + " <i>v</i><sub>2</sub> [<b>76</b>]"]
];
captionLines.forEach(c => {
    const el = document.createElement("div");
    el.className = "cap" + (c[4] ? " mid" : "");
    el.style.left = c[0] + "px";
    el.style.width = c[1] + "px";
    el.style.top = c[2] + "px";
    el.innerHTML = c[3];
    document.body.appendChild(el);
});
</script>
</body>
</html>
